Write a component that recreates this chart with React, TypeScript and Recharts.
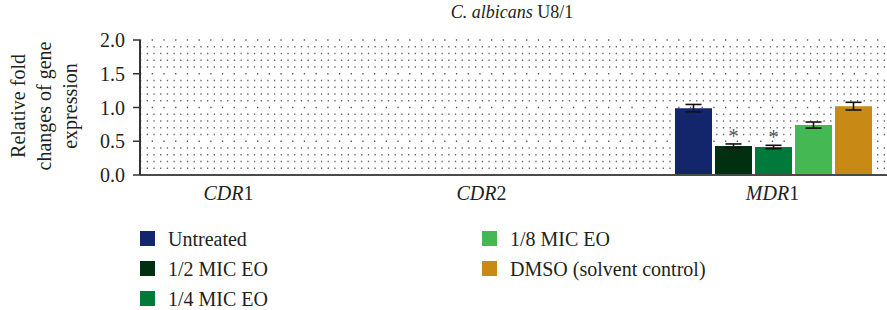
import * as React from 'react';
import { BarChart, Bar, XAxis, YAxis, CartesianGrid, ErrorBar, LabelList } from 'recharts';

// genes on the x axis
const genes = ['CDR1', 'CDR2', 'MDR1'];

// relative fold change (only MDR1 was measured)
const untreated = [null, null, 0.99];
const halfMic = [null, null, 0.43];
const quarterMic = [null, null, 0.415];
const eighthMic = [null, null, 0.74];
const dmso = [null, null, 1.02];

// error bars
const untreatedErr = [null, null, 0.055];
const halfMicErr = [null, null, 0.03];
const quarterMicErr = [null, null, 0.025];
const eighthMicErr = [null, null, 0.045];
const dmsoErr = [null, null, 0.057];

// significance marks
const halfMicSig = ['', '', '*'];
const quarterMicSig = ['', '', '*'];

const yMax = 2;
const yTicks = [0, 0.5, 1, 1.5, 2];
const minorGrid = [0.1, 0.2, 0.3, 0.4, 0.6, 0.7, 0.8, 0.9, 1.1, 1.2, 1.3, 1.4, 1.6, 1.7, 1.8, 1.9];
const majorGrid = [0.5, 1, 1.5, 2];

const series = [
  { key: 'untreated', name: 'Untreated', color: '#13266b', values: untreated, err: untreatedErr, sig: null },
  { key: 'half', name: '1/2 MIC EO', color: '#00300f', values: halfMic, err: halfMicErr, sig: halfMicSig },
  { key: 'quarter', name: '1/4 MIC EO', color: '#007a3a', values: quarterMic, err: quarterMicErr, sig: quarterMicSig },
  { key: 'eighth', name: '1/8 MIC EO', color: '#43b853', values: eighthMic, err: eighthMicErr, sig: null },
  { key: 'dmso', name: 'DMSO (solvent control)', color: '#c98a15', values: dmso, err: dmsoErr, sig: null },
];

const data = genes.map((g, i) => {
  const row: any = { gene: g };
  series.forEach((s) => {
    row[s.key] = s.values[i];
    row[s.key + 'Err'] = s.err[i];
    if (s.sig) row[s.key + 'Sig'] = s.sig[i];
  });
  return row;
});

const FONT = "'Liberation Serif', 'DejaVu Serif', serif";
const TEXT = '#231f20';

// label positions in the source figure are not centred on their bands
const tickShift: Record<string, number> = { CDR1: -86, CDR2: -62, MDR1: 0 };

const GeneTick = (props: any) => {
  const { x, y, payload } = props;
  const name: string = payload.value;
  return (
    <text x={x + (tickShift[name] || 0)} y={y + 23} textAnchor="middle" style={{ fontFamily: FONT }} fontSize={20} fill={TEXT}>
      <tspan fontStyle="italic">{name.slice(0, -1)}</tspan>
      <tspan>{name.slice(-1)}</tspan>
    </text>
  );
};

const YLabel = () => (
  <text transform="translate(25,106) rotate(-90)" textAnchor="middle" style={{ fontFamily: FONT }} fontSize={20} fill={TEXT}>
    <tspan x={0} y={0}>Relative fold</tspan>
    <tspan x={0} y={26}>changes of gene</tspan>
    <tspan x={0} y={52}>expression</tspan>
  </text>
);

const Star = (props: any) => {
  const { x, y, width, value } = props;
  if (!value) return null;
  return (
    <text x={x + width / 2} y={y - 3} textAnchor="middle" style={{ fontFamily: FONT }} fontSize={20} fill="#555">
      {value}
    </text>
  );
};

// dotted guide lines at every 0.1, placed through the y scale when available
const gridAt = (values: number[]) => ({ yAxis, offset }: any) =>
  values.map((v) =>
    yAxis && typeof yAxis.scale === 'function'
      ? yAxis.scale(v)
      : offset.top + offset.height * (1 - v / yMax)
  );

const legendCols = [series.slice(0, 3), series.slice(3)];

export default function App() {
  return (
    <div style={{ position: 'absolute', left: 0, top: 0, width: 887, height: 310, fontFamily: FONT, color: TEXT, background: '#fff' }}>
      <div style={{ position: 'absolute', left: 512, top: 2, transform: 'translateX(-50%)', fontSize: 18, whiteSpace: 'nowrap' }}>
        <i>C. albicans</i> U8/1
      </div>
      <BarChart
        width={887}
        height={310}
        data={data}
        margin={{ top: 40, right: 0, left: 0, bottom: 0 }}
        barCategoryGap={17}
        barGap={3}
        style={{ position: 'absolute', left: 0, top: 0 }}
      >
        <CartesianGrid vertical={false} horizontalCoordinatesGenerator={gridAt(minorGrid)} stroke="#666" strokeWidth={1.3} strokeDasharray="1.3 5.4" />
        <CartesianGrid vertical={false} horizontalCoordinatesGenerator={gridAt(majorGrid)} stroke="#555" strokeWidth={1.3} strokeDasharray="1.3 10.4" />
        <XAxis
          dataKey="gene"
          height={135}
          padding={{ left: 60, right: 0 }}
          tickLine={false}
          tickSize={0}
          axisLine={{ stroke: '#4a4a4a', strokeWidth: 2 }}
          tick={<GeneTick />}
          interval={0}
        />
        <YAxis
          width={140}
          domain={[0, yMax]}
          ticks={yTicks}
          tickFormatter={(v: number) => v.toFixed(1)}
          tickSize={7}
          tickMargin={8}
          axisLine={{ stroke: '#333', strokeWidth: 2 }}
          tickLine={{ stroke: '#333', strokeWidth: 1.5 }}
          tick={{ style: { fontFamily: FONT }, fontSize: 20, fill: TEXT }}
          label={<YLabel />}
        />
        {series.map((s) => (
          <Bar key={s.key} dataKey={s.key} name={s.name} fill={s.color} isAnimationActive={false}>
            <ErrorBar dataKey={s.key + 'Err'} width={8} stroke="#111" strokeWidth={1.6} direction="y" />
            {s.sig ? <LabelList dataKey={s.key + 'Sig'} content={<Star />} /> : null}
          </Bar>
        ))}
      </BarChart>
      {legendCols.map((col, ci) => (
        <div key={ci} style={{ position: 'absolute', left: ci === 0 ? 140 : 482, top: 231 }}>
          {col.map((s) => (
            <div key={s.key} style={{ display: 'flex', alignItems: 'center', height: 15, marginBottom: 15, whiteSpace: 'nowrap' }}>
              <span style={{ display: 'inline-block', width: 15, height: 15, background: s.color, marginRight: 13 }} />
              <span style={{ fontSize: 20, lineHeight: '15px', position: 'relative', top: 1 }}>{s.name}</span>
            </div>
          ))}
        </div>
      ))}
    </div>
  );
}
